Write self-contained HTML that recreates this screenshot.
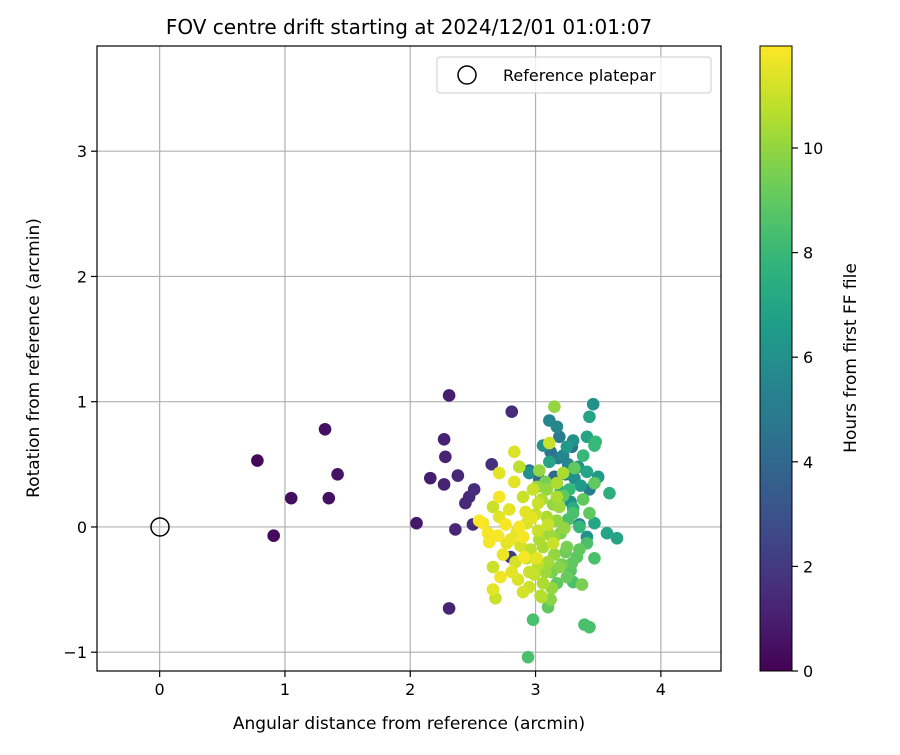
<!DOCTYPE html>
<html><head><meta charset="utf-8"><style>
body{margin:0;background:#fff;}
svg text{font-family:"DejaVu Sans","Liberation Sans",sans-serif;fill:#000;}
</style></head><body>
<svg id="chart" width="900" height="750" viewBox="0 0 900 750" xmlns="http://www.w3.org/2000/svg">
<defs><linearGradient id="vir" x1="0" y1="1" x2="0" y2="0"></linearGradient></defs>
<g id="grid"></g>
<g id="points"></g>
<circle cx="160" cy="527" r="9" fill="none" stroke="#000" stroke-width="1.5"/>
<rect x="97" y="46" width="624" height="625" fill="none" stroke="#000" stroke-width="1.2"/>
<g id="ticks"></g>
<text x="409" y="34" font-size="20" text-anchor="middle">FOV centre drift starting at 2024/12/01 01:01:07</text>
<text x="409" y="729" font-size="17" text-anchor="middle">Angular distance from reference (arcmin)</text>
<text transform="translate(39,358) rotate(-90)" font-size="17" text-anchor="middle">Rotation from reference (arcmin)</text>
<g>
<rect x="437" y="57" width="274" height="36" rx="3" fill="#fff" fill-opacity="0.8" stroke="#ccc"/>
<circle cx="467" cy="75" r="9" fill="none" stroke="#000" stroke-width="1.5"/>
<text x="503" y="81" font-size="16">Reference platepar</text>
</g>
<rect x="760" y="46" width="32" height="625" fill="url(#vir)" stroke="#000" stroke-width="1"/>
<g id="cticks"></g>
<text transform="translate(856,358) rotate(-90)" font-size="17" text-anchor="middle">Hours from first FF file</text>
</svg>
<script>
const xTicks=[0,1,2,3,4];
const yTicks=[-1,0,1,2,3];
const cTicks=[0,2,4,6,8,10];
const pxX=[0.78,0.91,1.05,1.32,1.35,1.42,2.05,2.16,2.27,2.27,2.28,2.31,2.31,2.36,2.38,2.44,2.47,2.51,2.50,2.81,2.65,2.80,
3.15,3.46,3.43,3.11,3.17,3.11,3.30,3.41,3.47,3.38,3.25,2.83,3.11,2.87,2.71,2.95,3.03,3.22,3.31,3.41,3.50,3.47,2.83,3.01,3.17,3.59,2.71,2.90,3.09,3.27,3.38,2.66,2.79,3.02,3.17,3.19,3.30,3.43,3.47,3.57,3.65,2.58,2.71,2.87,2.97,3.10,3.23,3.35,2.63,2.77,2.90,3.03,3.14,3.25,3.35,3.41,3.47,3.29,2.91,3.01,3.15,2.66,2.81,2.95,3.13,3.17,3.30,3.37,2.95,3.06,3.13,2.66,2.68,3.05,3.10,2.98,3.39,3.43,2.94,
3.22,3.06,3.19,2.95,3.31,3.43,3.35,3.41,3.29,3.03,3.48,
3.12,3.18,3.26,3.34,3.15,3.24,3.36,3.08,3.20,3.28,2.98,3.05,3.14,3.22,3.30,2.92,3.00,3.09,3.17,3.26,2.76,2.85,2.93,3.02,3.11,3.20,2.70,2.80,2.88,2.96,3.06,3.15,3.24,2.55,2.62,2.74,2.84,2.93,3.02,3.10,3.19,3.28,2.72,2.86,2.99,3.08,3.21,3.33,2.90,3.04,3.12,3.25];
const pyY=[0.53,-0.07,0.23,0.78,0.23,0.42,0.03,0.39,0.34,0.70,0.56,1.05,-0.65,-0.02,0.41,0.19,0.24,0.30,0.02,0.92,0.50,-0.24,
0.96,0.98,0.88,0.85,0.80,0.67,0.69,0.72,0.65,0.57,0.64,0.60,0.52,0.48,0.43,0.43,0.45,0.43,0.47,0.44,0.40,0.35,0.36,0.32,0.35,0.27,0.24,0.24,0.30,0.30,0.22,0.16,0.14,0.19,0.24,0.16,0.11,0.11,0.03,-0.05,-0.09,0.03,0.08,0.00,0.07,0.02,-0.01,0,-0.12,-0.13,-0.08,-0.10,-0.13,-0.16,-0.18,-0.13,-0.25,-0.29,-0.24,-0.25,-0.22,-0.32,-0.36,-0.36,-0.36,-0.45,-0.44,-0.46,-0.48,-0.45,-0.49,-0.50,-0.57,-0.56,-0.64,-0.74,-0.78,-0.80,-1.04,
0.57,0.65,0.72,0.45,0.39,0.30,0.02,-0.08,0.64,0.38,0.68,
0.60,0.55,0.50,0.48,0.40,0.42,0.33,0.36,0.28,0.20,0.30,0.22,0.18,0.25,0.15,0.12,0.10,0.08,0.05,0.06,0.02,-0.04,0.03,-0.03,-0.06,-0.05,-0.07,-0.10,-0.15,-0.18,-0.16,-0.08,-0.20,0.05,-0.05,-0.22,-0.28,-0.25,-0.30,-0.28,-0.32,-0.35,-0.40,-0.42,-0.38,-0.36,-0.30,-0.24,-0.52,-0.55,-0.58,-0.40];
const hours=[0.2,0.3,0.4,0.5,0.5,0.6,0.8,1.0,1.1,1.1,1.2,1.0,1.2,1.3,1.3,1.4,1.4,1.5,1.5,1.5,1.6,2.0,
10,6,7,5.5,5.5,11,6,7,8,8,6.5,11.3,7,10.8,11.5,6,10,10.5,9,7,6.5,9,11.5,10,10.5,7.5,11.8,11,10,8,9,11,11.5,11,10.5,10.2,8.5,9,7,7,7,11.8,11.5,11.8,11.5,11,10,8,11.8,11.5,11.8,10.5,11,9.5,9,8.5,8.5,9,11.8,11.5,10,11,11.5,11,9.5,9,8.5,9.5,11,10.5,10,11.5,11,10.5,9,8.5,8.5,8.5,8.5,
5.5,6,5,5,6,5,5.5,6,4.5,4,8,
4.5,5,5.5,6,4,5,6.5,9.5,7,6,11,10.5,10,9,7.5,11.5,11,10.5,10,8.5,11.8,11.5,11.3,11,10.2,9.5,11.8,11.6,11.2,10.8,10.4,10,9.2,11.9,11.8,11.6,11.2,11,10.8,10.3,9.8,8.8,11.7,11.3,10.9,10.2,9.4,8.9,11.2,10.6,9.8,9.2];
const X0=-0.5,X1=4.48,Y0=-1.15,Y1=3.84,L=97,R=721,T=46,B=671,HMAX=11.95;
const sx=v=>L+(v-X0)/(X1-X0)*(R-L);
const sy=v=>B-(v-Y0)/(Y1-Y0)*(B-T);
const sc=v=>671-v/HMAX*625;
const V=[[68,1,84],[72,40,120],[62,74,137],[49,104,142],[38,130,142],[31,158,137],[53,183,121],[109,205,89],[180,222,44],[253,231,37]];
function vir(t){t=Math.max(0,Math.min(1,t))*9;const i=Math.min(8,Math.floor(t)),f=t-i;const c=V[i].map((a,k)=>Math.round(a+(V[i+1][k]-a)*f));return `rgb(${c})`;}
const NS="http://www.w3.org/2000/svg";
function mk(tag,attrs,parent){const e=document.createElementNS(NS,tag);for(const k in attrs)e.setAttribute(k,attrs[k]);parent.appendChild(e);return e;}
const grid=document.getElementById('grid'),ticks=document.getElementById('ticks');
xTicks.forEach(v=>{const x=sx(v);
const g=mk('line',{x1:x,x2:x,y1:T,y2:B,stroke:'#b0b0b0','stroke-width':1.2},grid);

mk('line',{x1:x,x2:x,y1:B,y2:B+6,stroke:'#000','stroke-width':1.2},ticks);
const t=mk('text',{x:x,y:B+24,'font-size':16,'text-anchor':'middle'},ticks);t.textContent=v;
});
yTicks.forEach(v=>{const y=sy(v);
const g=mk('line',{x1:L,x2:R,y1:y,y2:y,stroke:'#b0b0b0','stroke-width':1.2},grid);

mk('line',{x1:L-6,x2:L,y1:y,y2:y,stroke:'#000','stroke-width':1.2},ticks);
const t=mk('text',{x:L-10,y:y+6,'font-size':16,'text-anchor':'end'},ticks);t.textContent=v<0?'\u2212'+(-v):v;
});
const grad=document.getElementById('vir');
for(let i=0;i<=20;i++){mk('stop',{offset:i/20,'stop-color':vir(i/20)},grad);}
const ct=document.getElementById('cticks');
cTicks.forEach(v=>{const y=sc(v);
mk('line',{x1:792,x2:798,y1:y,y2:y,stroke:'#000','stroke-width':1.2},ct);
const t=mk('text',{x:803,y:y+6,'font-size':16},ct);t.textContent=v;
});
const pts=document.getElementById('points');
const idx=hours.map((h,i)=>i).sort((a,b)=>hours[a]-hours[b]);
idx.forEach(i=>{const c=mk('circle',{cx:sx(pxX[i]),cy:sy(pyY[i]),r:6.3,fill:vir(hours[i]/HMAX)},pts);

});
</script>
</body></html>
